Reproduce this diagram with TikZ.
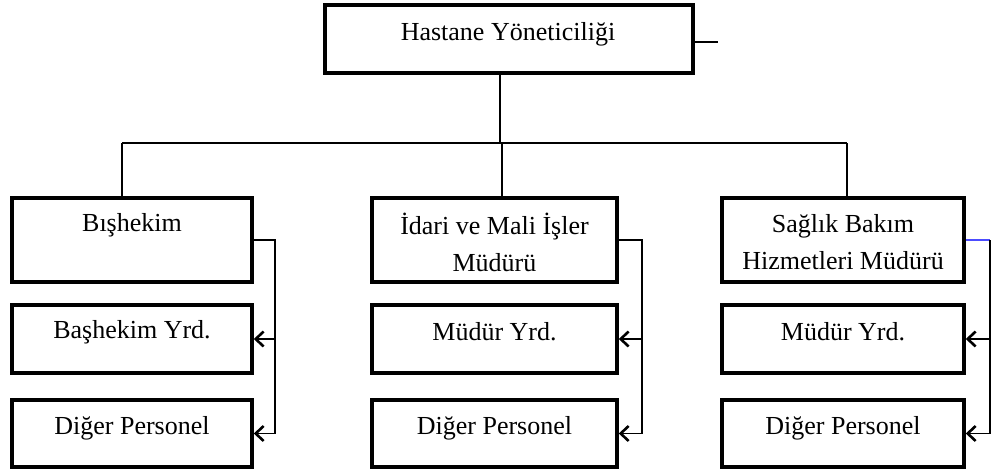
\documentclass[tikz,border=0pt]{standalone}
\usepackage{fontspec}
\setmainfont{Liberation Serif}
\usetikzlibrary{arrows.meta}
\begin{document}
\begin{tikzpicture}[x=1pt,y=-1pt,
  box/.style={draw,line width=3.5pt,rectangle,inner sep=0pt},
  lbl/.style={font=\fontsize{26}{37}\selectfont,align=center,inner sep=0pt},
  conn/.style={line width=1.5pt},
  tip/.style={conn,-{Straight Barb[length=8pt,width=15pt,line width=2.6pt]}}]
\useasboundingbox (0,0) rectangle (994,472);
% top
\node[box,minimum width=368pt,minimum height=68pt] (top) at (509,39) {};
\node[lbl] (toptxt) at (508,34) {Hastane Yöneticiliği};
\coordinate (stub) at (718,42);
\draw[conn] (top.east |- stub) -- (stub);
% column boxes
\foreach \n/\cx/\w in {L/132/240, M/494.5/245, R/843/242}{
  \node[box,minimum width=\w pt,minimum height=84pt] (\n1) at (\cx,240) {};
  \node[box,minimum width=\w pt,minimum height=68pt] (\n2) at (\cx,339) {};
  \node[box,minimum width=\w pt,minimum height=67pt] (\n3) at (\cx,433.5) {};
}
% texts
\node[lbl] (tL1) at (132,225) {Bışhekim};
\node[lbl] (tM1) at (494.5,242) {İdari ve Mali İşler\\Müdürü};
\node[lbl] (tR1) at (843,242) {Sağlık Bakım\\Hizmetleri Müdürü};
\node[lbl] (tL2) at (132,332) {Başhekim Yrd.};
\node[lbl] (tM2) at (494.5,332) {Müdür Yrd.};
\node[lbl] (tR2) at (843,332) {Müdür Yrd.};
\node[lbl] (tL3) at (132,428) {Diğer Personel};
\node[lbl] (tM3) at (494.5,428) {Diğer Personel};
\node[lbl] (tR3) at (843,428) {Diğer Personel};
% tree lines
\coordinate (bus) at (500,143);
\coordinate (vL) at (122,143);
\coordinate (vM) at (502,143);
\coordinate (vR) at (847,143);
\draw[conn] (top.south -| bus) -- (bus);
\draw[conn] (vL) -- (vR);
\draw[conn] (vL) -- (vL |- L1.north);
\draw[conn] (vM) -- (vM |- M1.north);
\draw[conn] (vR) -- (vR |- R1.north);
% side connectors
\coordinate (sL) at (275,240);
\coordinate (sM) at (642,240);
\coordinate (sR) at (990,240);
\draw[conn] (L1.east) -- (sL) -- (sL |- L3.east);
\draw[conn] (M1.east) -- (sM) -- (sM |- M3.east);
\draw[conn,color=blue!70!white] (R1.east) -- (sR);
\draw[conn] (sR) -- (sR |- R3.east);
\foreach \n/\s in {L/sL, M/sM, R/sR}{
  \draw[tip] (\s |- \n2.east) -- (\n2.east);
  \draw[tip] (\s |- \n3.east) -- (\n3.east);
}
\end{tikzpicture}
\end{document}
